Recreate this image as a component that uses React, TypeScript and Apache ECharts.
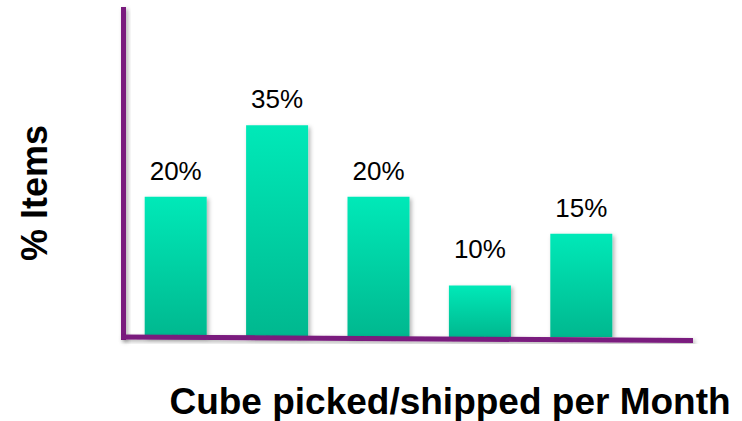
import React, { useEffect, useRef } from "react";
import * as echarts from "echarts";

const categories = ["A", "B", "C", "D", "E"];
const values = [20, 35, 20, 10, 15];
const yTitle = "% Items";
const xTitle = "Cube picked/shipped per Month";

const PURPLE = "#7a1a7e";

export default function App() {
  const ref = useRef<HTMLDivElement>(null);
  useEffect(() => {
    if (!ref.current) return;
    const chart = echarts.init(ref.current, undefined, { renderer: "svg" });
    const yMin = 6.69;
    const yMax = 88.1;
    const shadow = {
      shadowBlur: 4,
      shadowColor: "rgba(0,0,0,0.3)",
      shadowOffsetX: 2,
      shadowOffsetY: 2,
    };
    chart.setOption({
      animation: false,
      grid: { left: 125, right: 110, top: 7, bottom: 84 },
      xAxis: {
        type: "category",
        data: categories,
        axisLine: { show: false },
        axisTick: { show: false },
        axisLabel: { show: false },
        splitLine: { show: false },
      },
      yAxis: {
        type: "log",
        min: yMin,
        max: yMax,
        startValue: yMin,
        axisLine: { show: false },
        axisTick: { show: false },
        axisLabel: { show: false },
        splitLine: { show: false },
      },
      series: [
        {
          type: "bar",
          barWidth: 62,
          clip: true,
          data: values.map((v, i) => ({
            value: v,
            label: { distance: i === 3 ? 24 : 13 },
          })),
          itemStyle: {
            color: new echarts.graphic.LinearGradient(0, 0, 0, 1, [
              { offset: 0, color: "#00e9b8" },
              { offset: 1, color: "#00b88f" },
            ]),
            ...shadow,
          },
          label: {
            show: true,
            position: "top",
            formatter: "{c}%",
            fontFamily: "Liberation Sans, Arial, sans-serif",
            fontSize: 26,
            color: "#000",
          },
        },
      ],
      graphic: [
        {
          type: "rect",
          z: 100,
          shape: { x: 121, y: 7, width: 5, height: 333 },
          style: { fill: PURPLE, ...shadow },
        },
        {
          type: "line",
          z: 100,
          shape: { x1: 121, y1: 337, x2: 693, y2: 340.5 },
          style: { stroke: PURPLE, lineWidth: 5, ...shadow },
        },
        {
          type: "text",
          x: 34,
          y: 193,
          rotation: Math.PI / 2,
          style: {
            text: yTitle,
            fontFamily: "Liberation Sans, Arial, sans-serif",
            fontWeight: "bold",
            fontSize: 36,
            fill: "#000",
            align: "center",
            verticalAlign: "middle",
          },
        },
        {
          type: "text",
          x: 450,
          y: 401,
          style: {
            text: xTitle,
            fontFamily: "Liberation Sans, Arial, sans-serif",
            fontWeight: "bold",
            fontSize: 37,
            fill: "#000",
            align: "center",
            verticalAlign: "middle",
          },
        },
      ],
    });
    return () => chart.dispose();
  }, []);
  return <div ref={ref} style={{ width: 742, height: 421, position: "absolute", left: 0, top: 0 }} />;
}
